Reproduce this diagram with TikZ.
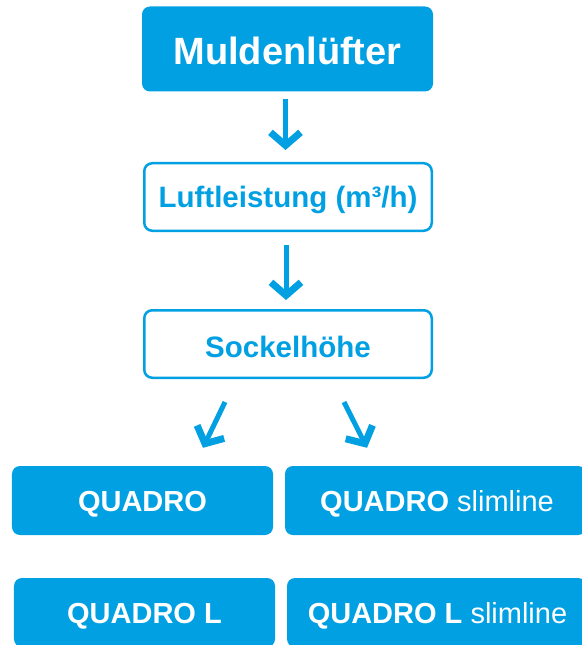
\documentclass[tikz,border=0pt]{standalone}
\usepackage{fontspec}
\setmainfont{Liberation Sans}
\usetikzlibrary{arrows.meta}
\definecolor{qblue}{RGB}{0,160,227}
\newcommand{\lowr}[2][6bp]{\raisebox{0pt}[\dimexpr\height+#1\relax][\depth]{#2}}
\tikzset{
  filledbox/.style={fill=qblue, draw=none, rounded corners=8bp, text=white, inner sep=0pt, anchor=center},
  outlinebox/.style={fill=white, draw=qblue, line width=2.5bp, rounded corners=8bp, text=qblue, inner sep=0pt, anchor=center,
     minimum width=287.5bp, minimum height=67.5bp, font=\fontsize{29.5bp}{34bp}\selectfont\bfseries},
  prodbox/.style={filledbox, minimum height=69bp, font=\fontsize{29bp}{34bp}\selectfont},
  arr/.style={draw=qblue, line width=5bp, -{Straight Barb[length=13bp,width=30bp,line width=7bp]}}
}
\begin{document}
\begin{tikzpicture}[x=1bp,y=-1bp]
\clip (0,0) rectangle (582,645);
\fill[white] (0,0) rectangle (582,645);
\node[filledbox, minimum width=291bp, minimum height=85bp, font=\fontsize{38bp}{44bp}\selectfont\bfseries] (M) at (287.5,49) {\lowr[3bp]{Muldenlüfter}};
\node[outlinebox] (L) at (288,197) {\lowr{Luftleistung (m³/h)}};
\node[outlinebox] (S) at (288,344) {\lowr{Sockelhöhe}};
\node[prodbox, minimum width=261bp] (Q) at (142.5,500.5) {\lowr[7bp]{\bfseries QUADRO}};
\node[prodbox, minimum width=301bp] (QS) at (435.5,500.5) {\lowr[7bp]{\hspace*{3bp}{\bfseries QUADRO} slimline}};
\node[prodbox, minimum width=261bp] (QL) at (144.5,612.5) {\lowr[7bp]{\bfseries QUADRO L}};
\node[prodbox, minimum width=299bp] (QLS) at (436.5,612.5) {\lowr[7bp]{\hspace*{2bp}{\bfseries QUADRO L} slimline}};
\draw[arr] ([xshift=-2bp,yshift=-7bp]M.south) -- ([xshift=-2.5bp,yshift=12bp]L.north);
\draw[arr] ([xshift=-2bp,yshift=-13bp]L.south) -- ([xshift=-2bp,yshift=9bp]S.north);
\draw[arr] ([xshift=-63bp,yshift=-23bp]S.south) -- ([xshift=60.5bp,yshift=18bp]Q.north);
\draw[arr] ([xshift=56bp,yshift=-23bp]S.south) -- ([xshift=-68.5bp,yshift=18bp]QS.north);
\end{tikzpicture}
\end{document}
